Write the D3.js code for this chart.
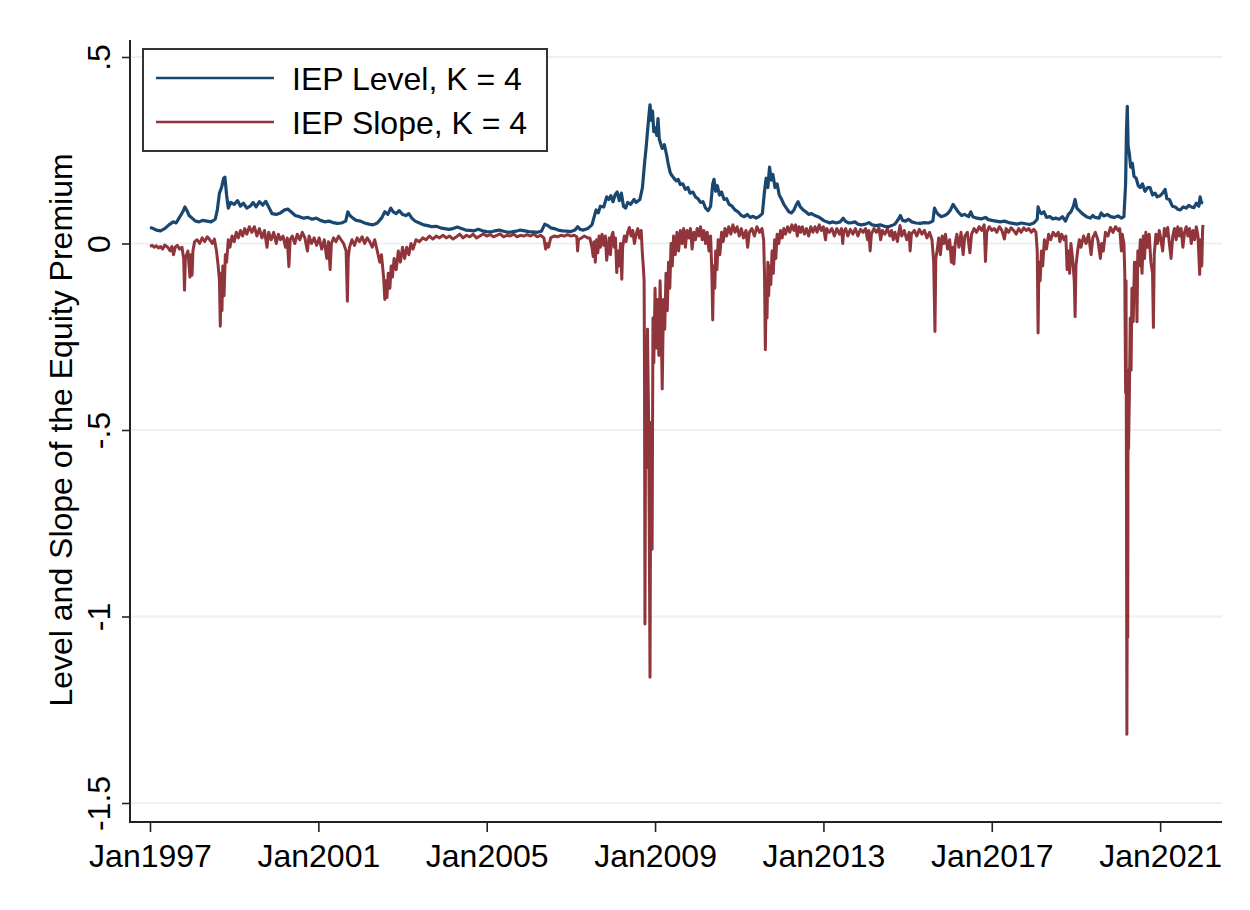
<!DOCTYPE html>
<html>
<head>
<meta charset="utf-8">
<script src="https://cdn.jsdelivr.net/npm/d3@7"></script>
<style>
  html, body { margin: 0; padding: 0; background: #fff; }
  svg { display: block; font-family: "Liberation Sans", Arial, sans-serif; }
</style>
</head>
<body>
<svg id="chart" width="1250" height="910"></svg>
<script>
// ---- Data ----
const seriesNames = ["IEP Level, K = 4", "IEP Slope, K = 4"];
const xTickYears = [1997, 2001, 2005, 2009, 2013, 2017, 2021];
const xTickLabels = ["Jan1997", "Jan2001", "Jan2005", "Jan2009", "Jan2013", "Jan2017", "Jan2021"];
const yTickValues = [0.5, 0, -0.5, -1, -1.5];
const yTickLabels = [".5", "0", "-.5", "-1", "-1.5"];
const yTitle = "Level and Slope of the Equity Premium";

const levelYears = [
1997.00,1997.08,1997.15,1997.25,1997.35,1997.45,1997.55,1997.62,1997.70,1997.78,1997.83,1997.88,1997.93,
1998.00,1998.08,1998.17,1998.25,1998.35,1998.45,1998.55,1998.60,1998.65,1998.70,1998.75,1998.78,1998.82,1998.86,1998.92,
1999.00,1999.08,1999.15,1999.22,1999.30,1999.38,1999.45,1999.52,1999.60,1999.68,1999.75,1999.82,1999.90,
2000.00,2000.10,2000.20,2000.28,2000.35,2000.45,2000.55,2000.65,2000.75,2000.85,2000.95,
2001.05,2001.15,2001.25,2001.35,2001.45,2001.55,2001.65,2001.70,2001.75,2001.82,2001.90,
2002.00,2002.10,2002.20,2002.30,2002.40,2002.50,2002.58,2002.65,2002.72,2002.78,2002.85,2002.92,
2003.00,2003.08,2003.15,2003.22,2003.30,2003.40,2003.50,2003.60,2003.70,2003.80,2003.90,
2004.00,2004.10,2004.20,2004.30,2004.40,2004.50,2004.60,2004.70,2004.80,2004.90,
2005.00,2005.10,2005.20,2005.30,2005.40,2005.50,2005.60,2005.70,2005.80,2005.90,
2006.00,2006.10,2006.20,2006.30,2006.38,2006.45,2006.52,2006.60,2006.70,2006.80,2006.90,
2007.00,2007.10,2007.16,2007.22,2007.30,2007.40,2007.50,2007.55,2007.60,2007.65,2007.70,2007.78,2007.85,2007.90,2007.95,
2008.00,2008.05,2008.10,2008.15,2008.20,2008.25,2008.30,2008.35,2008.42,2008.50,2008.55,2008.64,2008.70,2008.75,2008.79,2008.82,2008.86,2008.88,2008.91,2008.94,2008.97,
2009.00,2009.04,2009.07,2009.10,2009.14,2009.17,2009.22,2009.27,2009.31,2009.36,2009.40,2009.45,2009.50,2009.55,2009.60,2009.66,2009.72,2009.78,2009.83,2009.90,2009.96,
2010.02,2010.08,2010.14,2010.20,2010.26,2010.32,2010.37,2010.40,2010.44,2010.48,2010.53,2010.58,2010.64,2010.70,2010.76,2010.83,2010.90,2010.97,
2011.05,2011.12,2011.19,2011.26,2011.33,2011.40,2011.47,2011.55,2011.60,2011.64,2011.68,2011.72,2011.76,2011.80,2011.85,2011.90,2011.95,
2012.00,2012.06,2012.12,2012.18,2012.24,2012.30,2012.36,2012.40,2012.45,2012.52,2012.58,2012.65,2012.72,2012.80,2012.87,2012.93,
2013.00,2013.08,2013.15,2013.22,2013.30,2013.40,2013.47,2013.52,2013.60,2013.68,2013.75,2013.82,2013.90,
2014.00,2014.08,2014.16,2014.25,2014.35,2014.45,2014.55,2014.62,2014.70,2014.78,2014.83,2014.88,2014.95,
2015.02,2015.10,2015.20,2015.30,2015.40,2015.50,2015.60,2015.64,2015.68,2015.73,2015.80,2015.88,2015.95,
2016.02,2016.08,2016.14,2016.20,2016.28,2016.35,2016.45,2016.50,2016.55,2016.65,2016.75,2016.85,2016.92,
2017.00,2017.10,2017.20,2017.30,2017.40,2017.50,2017.60,2017.70,2017.80,2017.90,
2018.00,2018.08,2018.10,2018.14,2018.18,2018.24,2018.30,2018.38,2018.45,2018.52,2018.60,2018.68,2018.75,2018.82,2018.88,2018.94,2018.98,
2019.02,2019.08,2019.15,2019.25,2019.34,2019.40,2019.45,2019.55,2019.60,2019.66,2019.75,2019.82,2019.90,
2020.00,2020.08,2020.14,2020.18,2020.20,2020.22,2020.24,2020.27,2020.30,2020.34,2020.38,2020.43,2020.48,2020.53,2020.58,2020.64,2020.70,2020.76,2020.82,2020.88,2020.93,
2021.00,2021.06,2021.12,2021.16,2021.22,2021.29,2021.36,2021.42,2021.48,2021.55,2021.62,2021.68,2021.74,2021.80,2021.86,2021.92,2021.95,2021.98,2022.02
];
const levelValues = [
0.043,0.040,0.036,0.034,0.040,0.050,0.058,0.055,0.070,0.085,0.098,0.088,0.075,
0.068,0.060,0.058,0.062,0.060,0.058,0.065,0.090,0.135,0.150,0.175,0.178,0.130,0.095,0.110,
0.105,0.115,0.100,0.108,0.095,0.100,0.110,0.098,0.112,0.103,0.113,0.098,0.080,
0.078,0.082,0.090,0.092,0.085,0.075,0.072,0.068,0.070,0.065,0.068,
0.062,0.058,0.060,0.056,0.054,0.055,0.060,0.085,0.075,0.068,0.062,
0.060,0.055,0.052,0.050,0.055,0.068,0.085,0.078,0.095,0.085,0.080,0.088,
0.078,0.075,0.080,0.068,0.060,0.055,0.050,0.048,0.045,0.046,0.042,
0.040,0.038,0.040,0.044,0.040,0.036,0.035,0.034,0.038,0.034,
0.032,0.031,0.034,0.036,0.033,0.030,0.031,0.033,0.036,0.034,
0.032,0.031,0.030,0.033,0.052,0.048,0.042,0.040,0.036,0.034,0.033,
0.032,0.036,0.045,0.038,0.036,0.040,0.050,0.070,0.090,0.082,0.100,0.098,0.125,0.118,0.128,
0.112,0.130,0.138,0.115,0.135,0.100,0.095,0.110,0.105,0.118,0.110,0.118,0.150,0.215,0.260,0.300,0.350,0.372,0.330,0.355,0.300,
0.310,0.290,0.335,0.280,0.265,0.255,0.265,0.240,0.215,0.190,0.182,0.175,0.168,0.172,0.158,0.160,0.145,0.150,0.135,0.138,0.125,
0.120,0.110,0.112,0.095,0.088,0.100,0.160,0.172,0.140,0.155,0.130,0.138,0.118,0.120,0.105,0.100,0.090,0.085,
0.075,0.072,0.078,0.070,0.073,0.068,0.072,0.080,0.140,0.175,0.150,0.205,0.170,0.185,0.150,0.160,0.130,
0.120,0.105,0.095,0.085,0.082,0.090,0.105,0.112,0.098,0.090,0.085,0.078,0.080,0.075,0.072,0.068,
0.062,0.058,0.055,0.058,0.055,0.058,0.068,0.060,0.055,0.056,0.058,0.052,0.050,
0.052,0.056,0.050,0.048,0.050,0.046,0.045,0.048,0.052,0.065,0.075,0.062,0.060,
0.065,0.058,0.055,0.054,0.056,0.055,0.060,0.095,0.085,0.078,0.072,0.075,0.080,
0.090,0.105,0.095,0.085,0.075,0.078,0.072,0.085,0.072,0.068,0.066,0.070,0.064,
0.062,0.060,0.058,0.060,0.056,0.054,0.052,0.055,0.053,0.051,
0.055,0.065,0.098,0.085,0.080,0.085,0.070,0.072,0.066,0.068,0.065,0.072,0.060,0.078,0.085,0.100,0.118,
0.095,0.088,0.080,0.072,0.068,0.075,0.070,0.068,0.082,0.074,0.078,0.072,0.070,
0.074,0.068,0.072,0.160,0.300,0.368,0.260,0.240,0.205,0.215,0.180,0.175,0.155,0.150,0.160,0.140,0.150,0.150,0.130,0.135,0.125,
0.128,0.135,0.145,0.120,0.118,0.100,0.098,0.092,0.090,0.098,0.095,0.102,0.098,0.096,0.108,0.100,0.125,0.110,0.108
];

const slopeYears = [
1997.00,1997.05,1997.10,1997.15,1997.20,1997.25,1997.30,1997.35,1997.42,1997.48,1997.52,1997.56,1997.60,1997.65,1997.70,1997.76,1997.80,1997.82,1997.84,1997.90,1997.95,1997.97,
1998.00,1998.02,1998.06,1998.12,1998.18,1998.24,1998.30,1998.36,1998.42,1998.48,1998.53,1998.58,1998.62,1998.65,1998.67,1998.69,1998.71,1998.73,1998.76,1998.79,1998.82,1998.86,1998.90,1998.95,
1999.00,1999.05,1999.10,1999.15,1999.20,1999.25,1999.30,1999.36,1999.42,1999.48,1999.54,1999.60,1999.66,1999.72,1999.78,1999.82,1999.88,1999.94,
2000.00,2000.05,2000.10,2000.16,2000.22,2000.26,2000.30,2000.33,2000.38,2000.44,2000.50,2000.56,2000.62,2000.68,2000.74,2000.78,2000.84,2000.90,2000.96,
2001.02,2001.08,2001.14,2001.20,2001.24,2001.28,2001.31,2001.36,2001.42,2001.48,2001.54,2001.60,2001.66,2001.69,2001.71,2001.74,2001.80,2001.86,2001.92,2001.98,
2002.04,2002.10,2002.16,2002.22,2002.28,2002.34,2002.40,2002.46,2002.50,2002.55,2002.58,2002.60,2002.63,2002.66,2002.70,2002.73,2002.76,2002.80,2002.85,2002.90,2002.95,
2003.00,2003.05,2003.10,2003.15,2003.20,2003.25,2003.32,2003.40,2003.48,2003.56,2003.64,2003.72,2003.80,2003.88,2003.96,
2004.04,2004.12,2004.20,2004.28,2004.36,2004.44,2004.52,2004.60,2004.68,2004.76,2004.84,2004.92,
2005.00,2005.08,2005.16,2005.24,2005.32,2005.40,2005.48,2005.56,2005.64,2005.72,2005.80,2005.88,2005.96,
2006.04,2006.12,2006.20,2006.28,2006.36,2006.40,2006.43,2006.47,2006.52,2006.60,2006.68,2006.76,2006.84,2006.92,
2007.00,2007.08,2007.14,2007.16,2007.18,2007.25,2007.32,2007.40,2007.45,2007.50,2007.53,2007.55,2007.58,2007.61,2007.64,2007.67,2007.70,2007.74,2007.78,2007.82,2007.85,2007.88,2007.91,2007.94,2007.97,
2008.00,2008.03,2008.06,2008.09,2008.12,2008.15,2008.18,2008.21,2008.23,2008.27,2008.31,2008.35,2008.39,2008.43,2008.47,2008.51,2008.55,2008.59,2008.63,2008.67,2008.70,2008.72,2008.74,2008.75,2008.76,2008.78,2008.80,2008.82,2008.85,2008.88,2008.90,2008.93,2008.95,2008.97,
2009.00,2009.03,2009.06,2009.09,2009.12,2009.15,2009.17,2009.20,2009.23,2009.26,2009.29,2009.32,2009.35,2009.38,2009.41,2009.44,2009.48,2009.52,2009.56,2009.60,2009.64,2009.68,2009.72,2009.76,2009.80,2009.84,2009.88,2009.92,2009.96,
2010.00,2010.04,2010.08,2010.12,2010.16,2010.20,2010.24,2010.28,2010.32,2010.35,2010.37,2010.39,2010.42,2010.44,2010.47,2010.50,2010.54,2010.58,2010.62,2010.66,2010.70,2010.75,2010.80,2010.85,2010.90,2010.95,
2011.00,2011.05,2011.10,2011.16,2011.20,2011.24,2011.30,2011.36,2011.42,2011.48,2011.54,2011.58,2011.60,2011.62,2011.64,2011.66,2011.68,2011.70,2011.72,2011.75,2011.78,2011.81,2011.84,2011.87,2011.90,2011.94,2011.98,
2012.02,2012.06,2012.10,2012.15,2012.20,2012.25,2012.30,2012.34,2012.38,2012.42,2012.46,2012.50,2012.55,2012.60,2012.65,2012.70,2012.75,2012.80,2012.85,2012.90,2012.95,
2013.00,2013.05,2013.08,2013.14,2013.20,2013.26,2013.32,2013.38,2013.43,2013.46,2013.48,2013.53,2013.58,2013.64,2013.70,2013.76,2013.82,2013.88,2013.94,
2014.00,2014.05,2014.08,2014.11,2014.14,2014.20,2014.26,2014.32,2014.36,2014.40,2014.46,2014.52,2014.58,2014.62,2014.66,2014.70,2014.76,2014.79,2014.82,2014.86,2014.92,2014.98,
2015.04,2015.06,2015.09,2015.16,2015.22,2015.28,2015.34,2015.40,2015.46,2015.52,2015.58,2015.62,2015.65,2015.67,2015.70,2015.74,2015.78,2015.82,2015.86,2015.90,2015.95,
2016.00,2016.04,2016.07,2016.10,2016.13,2016.17,2016.22,2016.27,2016.32,2016.36,2016.42,2016.48,2016.52,2016.58,2016.64,2016.70,2016.76,2016.82,2016.85,2016.88,2016.94,
2017.00,2017.06,2017.12,2017.18,2017.24,2017.30,2017.34,2017.40,2017.46,2017.52,2017.58,2017.64,2017.70,2017.76,2017.82,2017.88,2017.94,
2018.00,2018.05,2018.08,2018.10,2018.12,2018.15,2018.18,2018.21,2018.25,2018.30,2018.35,2018.40,2018.46,2018.52,2018.58,2018.62,2018.66,2018.72,2018.76,2018.79,2018.82,2018.85,2018.88,2018.92,2018.96,2018.98,
2019.00,2019.04,2019.08,2019.12,2019.18,2019.24,2019.30,2019.36,2019.40,2019.46,2019.52,2019.58,2019.61,2019.65,2019.70,2019.76,2019.82,2019.88,2019.94,
2020.00,2020.04,2020.08,2020.10,2020.14,2020.16,2020.18,2020.19,2020.20,2020.21,2020.22,2020.23,2020.24,2020.25,2020.27,2020.29,2020.31,2020.33,2020.36,2020.39,2020.42,2020.43,2020.45,2020.47,2020.50,2020.53,2020.57,2020.60,2020.63,2020.66,2020.70,2020.74,2020.78,2020.82,2020.84,2020.86,2020.90,2020.94,2020.98,
2021.02,2021.06,2021.10,2021.14,2021.18,2021.22,2021.26,2021.30,2021.34,2021.38,2021.42,2021.46,2021.50,2021.54,2021.58,2021.62,2021.66,2021.70,2021.74,2021.78,2021.82,2021.86,2021.90,2021.94,2021.96,2021.99,2022.01,2022.02
];
const slopeValues = [
-0.008,-0.005,-0.010,-0.006,-0.012,-0.008,-0.015,-0.004,-0.010,-0.020,-0.008,-0.030,-0.010,-0.005,-0.015,-0.010,-0.040,-0.125,-0.040,-0.020,-0.090,-0.030,
-0.085,-0.020,0.005,0.010,0.000,0.015,0.005,0.018,0.010,0.000,0.012,-0.020,-0.060,-0.100,-0.222,-0.080,-0.180,-0.060,-0.140,-0.030,-0.050,0.010,-0.010,0.020,
0.005,0.030,0.015,0.035,0.020,0.040,0.025,0.045,0.030,0.045,0.020,0.040,0.015,0.035,-0.010,0.030,0.010,0.030,
0.000,0.025,0.010,0.020,-0.010,0.015,-0.062,0.010,0.020,0.000,0.025,0.010,0.030,0.015,-0.020,0.020,0.000,0.015,-0.005,
0.015,-0.015,0.010,-0.040,0.005,-0.070,0.000,0.015,0.005,0.020,0.010,0.000,-0.020,-0.155,-0.040,-0.010,0.010,-0.005,0.015,0.005,
0.018,0.000,0.015,0.005,-0.010,0.010,-0.020,-0.050,-0.030,-0.090,-0.150,-0.100,-0.145,-0.080,-0.120,-0.060,-0.090,-0.040,-0.070,-0.020,-0.050,
-0.010,-0.040,-0.010,-0.030,0.000,-0.015,0.010,0.005,0.015,0.010,0.020,0.012,0.020,0.015,0.022,
0.015,0.020,0.012,0.018,0.025,0.015,0.022,0.018,0.025,0.015,0.020,0.026,
0.020,0.024,0.018,0.022,0.026,0.018,0.022,0.020,0.025,0.018,0.022,0.020,0.024,
0.020,0.025,0.018,0.022,0.015,-0.015,0.000,-0.010,0.015,0.020,0.018,0.022,0.020,0.024,
0.020,0.022,0.018,-0.020,0.010,0.015,0.020,0.015,0.015,-0.010,-0.035,0.005,-0.050,0.010,-0.025,0.020,-0.010,0.025,-0.005,0.020,-0.045,-0.015,0.015,-0.030,0.020,
0.030,-0.010,0.015,-0.078,-0.020,-0.060,0.000,-0.096,-0.010,0.020,0.005,0.030,0.043,0.020,0.035,0.000,0.025,0.040,0.015,0.035,-0.030,-0.060,-0.100,-0.380,-1.020,-0.250,-0.600,-0.230,-0.500,-1.163,-0.480,-0.820,-0.200,-0.320,
-0.120,-0.280,-0.150,-0.300,-0.100,-0.250,-0.390,-0.150,-0.230,-0.080,-0.180,-0.050,-0.120,0.000,-0.060,0.020,-0.030,0.030,-0.020,0.035,0.000,0.040,-0.010,0.035,0.015,0.040,-0.015,0.030,0.010,
0.040,0.020,0.045,0.010,0.035,0.000,0.030,-0.020,0.020,-0.080,-0.205,-0.060,-0.120,-0.020,-0.070,0.010,-0.030,0.030,0.005,0.040,0.020,0.045,0.025,0.050,0.030,0.045,
0.020,0.040,0.015,0.035,-0.010,0.030,0.040,0.020,0.045,0.030,0.040,0.010,-0.080,-0.285,-0.120,-0.200,-0.050,-0.140,-0.060,-0.110,-0.020,-0.080,0.010,-0.040,0.025,0.000,0.035,
0.015,0.040,0.025,0.045,0.030,0.050,0.035,0.050,0.020,0.045,0.030,0.045,0.025,0.040,0.020,0.045,0.030,0.045,0.030,0.050,0.035,
0.045,0.010,0.040,0.030,0.040,0.020,0.040,0.025,0.040,0.000,0.030,0.040,0.020,0.038,0.025,0.040,0.020,0.038,0.030,
0.040,0.010,0.035,-0.020,0.025,0.040,0.030,0.042,0.010,0.035,0.025,0.040,0.020,0.035,0.010,0.030,0.005,0.030,0.048,0.020,0.035,0.010,
0.030,-0.020,0.025,0.035,0.020,0.038,0.025,0.035,0.015,0.030,0.010,-0.050,-0.236,-0.040,-0.020,0.015,-0.030,0.020,0.000,0.025,-0.015,
0.010,-0.050,-0.010,-0.055,0.000,0.025,-0.010,0.030,-0.030,0.020,0.030,-0.025,0.025,0.040,0.030,0.045,0.035,0.050,-0.048,0.030,0.045,
0.035,0.040,0.030,0.045,0.035,0.012,0.040,0.030,0.042,0.035,0.025,0.040,0.030,0.042,0.035,0.040,0.030,
0.038,0.030,-0.020,-0.240,-0.050,-0.100,-0.020,-0.060,0.010,-0.015,0.025,0.010,0.030,0.020,0.030,0.005,0.025,0.010,0.020,-0.070,-0.020,-0.080,0.000,-0.040,-0.100,-0.196,
-0.060,-0.020,0.010,-0.010,0.020,0.000,0.025,-0.030,0.015,0.030,0.010,-0.040,0.000,-0.020,0.030,0.020,0.043,0.030,0.045,
0.035,0.040,-0.020,0.025,0.000,-0.080,-0.400,-0.100,-0.650,-1.316,-0.900,-1.056,-0.340,-0.550,-0.400,-0.200,-0.340,-0.120,-0.210,-0.050,-0.100,-0.050,-0.210,-0.020,-0.060,0.010,-0.080,0.020,-0.040,0.030,-0.010,0.025,-0.050,-0.080,-0.225,-0.030,0.025,0.000,0.035,
0.010,-0.020,0.040,0.020,0.043,0.000,-0.040,0.020,0.040,0.010,0.045,0.020,0.040,-0.010,0.030,0.045,0.020,0.040,0.000,0.035,0.010,0.045,0.020,-0.083,0.010,-0.060,0.040,0.050
];

const colors = ["#1a476f", "#90353b"];

// ---- Layout ----
const svg = d3.select("#chart");
const plot = { left: 130, right: 1222, top: 40, bottom: 822 };

const x = d3.scaleLinear()
  .domain([1996.525, 2022.47])
  .range([plot.left, plot.right]);
const y = d3.scaleLinear()
  .domain([-1.5, 0.5])
  .range([803, 57]);

// gridlines
svg.append("g").selectAll("line")
  .data(yTickValues)
  .join("line")
  .attr("x1", plot.left).attr("x2", plot.right)
  .attr("y1", d => y(d)).attr("y2", d => y(d))
  .attr("stroke", "#eaf2f3").attr("stroke-width", 2);

// lines
const levelData = levelYears.map((t, i) => [t, levelValues[i]]);
const slopeData = slopeYears.map((t, i) => [t, slopeValues[i]]);
const lineGen = d3.line().x(d => x(d[0])).y(d => y(d[1]));

svg.append("path").datum(slopeData)
  .attr("d", lineGen).attr("fill", "none")
  .attr("stroke", colors[1]).attr("stroke-width", 3).attr("stroke-linejoin", "round");
svg.append("path").datum(levelData)
  .attr("d", lineGen).attr("fill", "none")
  .attr("stroke", colors[0]).attr("stroke-width", 3.2).attr("stroke-linejoin", "round");

// y axis
const yAxis = d3.axisLeft(y)
  .tickValues(yTickValues)
  .tickSize(8)
  .tickFormat((d, i) => yTickLabels[i]);
const gy = svg.append("g").attr("transform", `translate(${plot.left},0)`).call(yAxis);
gy.select(".domain").remove();
gy.selectAll(".tick line").attr("stroke", "#222").attr("stroke-width", 1.6);
gy.selectAll(".tick text")
  .attr("font-size", 32).attr("fill", "#000")
  .attr("text-anchor", "middle")
  .attr("x", 0).attr("dy", 0)
  .attr("transform", "translate(-31,0) rotate(-90)")
  .attr("dominant-baseline", "central");
svg.append("line")
  .attr("x1", plot.left).attr("x2", plot.left)
  .attr("y1", plot.top).attr("y2", plot.bottom + 1)
  .attr("stroke", "#222").attr("stroke-width", 2);

// x axis
const xAxis = d3.axisBottom(x)
  .tickValues(xTickYears)
  .tickSize(10)
  .tickPadding(6)
  .tickFormat((d, i) => xTickLabels[i]);
const gx = svg.append("g").attr("transform", `translate(0,${plot.bottom})`).call(xAxis);
gx.select(".domain").remove();
gx.selectAll(".tick line").attr("stroke", "#222").attr("stroke-width", 1.6);
gx.selectAll(".tick text").attr("font-size", 32).attr("fill", "#000").attr("dy", "0.9em");
svg.append("line")
  .attr("x1", plot.left - 1).attr("x2", plot.right)
  .attr("y1", plot.bottom).attr("y2", plot.bottom)
  .attr("stroke", "#222").attr("stroke-width", 2);

// y title
svg.append("text")
  .attr("transform", `translate(72,${(plot.top + plot.bottom) / 2 - 1}) rotate(-90)`)
  .attr("text-anchor", "middle")
  .attr("font-size", 32).attr("fill", "#000")
  .text(yTitle);

// legend
const lg = svg.append("g");
lg.append("rect")
  .attr("x", 143).attr("y", 49).attr("width", 404).attr("height", 102)
  .attr("fill", "#fff").attr("stroke", "#333").attr("stroke-width", 2);
seriesNames.forEach((name, i) => {
  const yy = 78 + i * 44;
  lg.append("line").attr("x1", 156).attr("x2", 274).attr("y1", yy).attr("y2", yy)
    .attr("stroke", colors[i]).attr("stroke-width", 2.4);
  lg.append("text").attr("x", 292).attr("y", yy).attr("dy", "0.36em")
    .attr("font-size", 32).attr("fill", "#000").text(name);
});
</script>
</body>
</html>
